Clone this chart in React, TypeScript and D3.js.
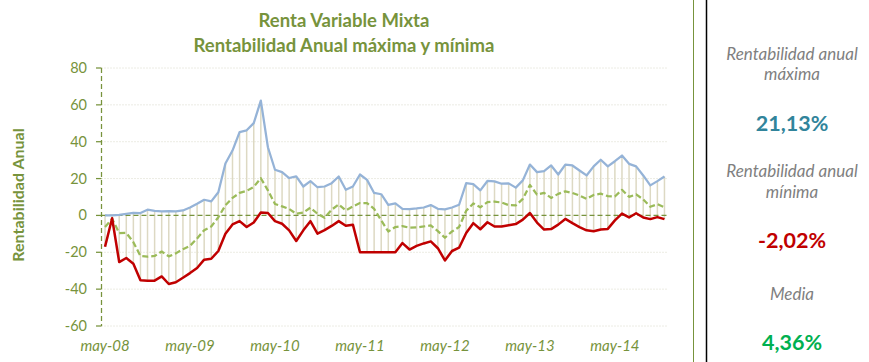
import React from "react";
import * as d3 from "d3";

const MONTHS = ["ene", "feb", "mar", "abr", "may", "jun", "jul", "ago", "sep", "oct", "nov", "dic"];
const START_YEAR = 2008;
const START_MONTH = 4; // may
const N_POINTS = 80;
const categories: string[] = Array.from({ length: N_POINTS }, (_, i) => {
  const m = (START_MONTH + i) % 12;
  const y = START_YEAR + Math.floor((START_MONTH + i) / 12);
  return `${MONTHS[m]}-${String(y % 100).padStart(2, "0")}`;
});

const maxSeries = [
  0, 0, 0.3, 0.9, 1.4, 1.3, 3.1, 2.5, 2.2, 2.3, 2.2, 2.7, 4.3, 6.3, 8.5, 7.6, 12.6, 28.2, 35.2, 45.2,
  46.2, 50.1, 62.3, 37, 24.8, 23.5, 20.3, 21.2, 15.7, 18.6, 15.3, 15.7, 17.5, 21.1, 13.9, 15.7, 22.2, 19.3, 12.2, 11.5,
  5.7, 6.5, 3.6, 3.4, 3.8, 4.3, 5.6, 3.6, 3.3, 4.3, 5.8, 17.5, 17, 13.6, 18.7, 18.5, 17.2, 17.4, 15.1, 19,
  27.6, 23.5, 24, 27.1, 22.2, 27.6, 27.1, 24.4, 21.7, 26.6, 30.2, 26.6, 29.4, 32.5, 28, 26.6, 21.7, 16.3, 18.6, 21.13,
];

const minSeries = [
  -17, -1.5, -25.3, -23.1, -26.2, -35.2, -35.4, -35.4, -33.1, -37.2, -36.3, -33.8, -31.3, -28.5, -24, -23.5, -19.3, -9.9, -4.9, -3.1,
  -6.3, -3.8, 1.6, 1.3, -3.1, -4.5, -8.1, -13.9, -8.1, -3.1, -9.9, -8, -5.7, -3.1, -5.6, -5, -20, -20, -20, -20,
  -20, -20, -15, -18.5, -16.5, -15.2, -14.1, -17.8, -24.4, -19.3, -17.5, -9.5, -4.2, -7.5, -3.7, -6, -6, -5.3, -4.7, -2.3,
  1.3, -3.9, -7.7, -7.4, -5, -1.9, -4.2, -6.3, -8.1, -8.6, -7.6, -7.3, -2.7, 1, -1.1, 1.2, -1.1, -2, -0.9, -2.02,
];

const meanSeries = [
  -6.3, -1.8, -9.6, -9.5, -14.5, -22, -22.4, -22, -19.6, -22.2, -20.6, -18.3, -16.5, -12.5, -8, -6, -1, 5.5, 9.5, 12.2,
  13.3, 15.5, 20.2, 13.6, 6.2, 4.9, 3.5, 0.9, 1.5, 4.2, 0.9, -1.3, 3.1, 6, 2.7, 4.9, 6.7, 6.7, 3.6, -2.7,
  -8.7, -6.3, -5.8, -6.7, -6.5, -6, -5.4, -8.5, -12.1, -8.7, -6.3, 2.5, 6.5, 4.4, 7.2, 7.5, 7, 5.6, 5.4, 9,
  16.5, 11.3, 12.2, 9.5, 11.7, 13.1, 12.2, 10.8, 9, 11.1, 11.8, 10.5, 10.3, 13.9, 10.1, 11.4, 8.7, 4.7, 6.1, 4.36,
];

const yTicks = [-60, -40, -20, 0, 20, 40, 60, 80];
const xTickLabels = ["may-08", "may-09", "may-10", "may-11", "may-12", "may-13", "may-14"];

const titleLines = ["Renta Variable Mixta", "Rentabilidad Anual máxima y mínima"];
const yAxisTitle = "Rentabilidad Anual";
const sideLabels = ["Rentabilidad anual", "máxima", "Rentabilidad anual", "mínima", "Media"];
const sideValues = ["21,13%", "-2,02%", "4,36%"];

const W = 869;
const H = 362;
const FONT = "Lato, 'Open Sans', sans-serif";
const OLIVE = "#77933C";

export default function App() {
  const x = d3.scalePoint<string>().domain(categories).range([101.5, 668]).padding(0.5);
  const y = d3.scaleLinear().domain([-60, 80]).range([326, 68]);

  const lineOf = (vals: number[]) =>
    d3
      .line<number>()
      .x((_, i) => x(categories[i]) as number)
      .y((d) => y(d))(vals) as string;

  return (
    <svg
      width={W}
      height={H}
      style={{ position: "absolute", left: 0, top: 0, background: "#fff" }}
      fontFamily={FONT}
    >
      {/* title */}
      <text x={344} y={27} textAnchor="middle" fontSize={18.5} fontWeight="bold" fill={OLIVE}>
        {titleLines[0]}
      </text>
      <text x={344} y={52} textAnchor="middle" fontSize={18.5} fontWeight="bold" fill={OLIVE}>
        {titleLines[1]}
      </text>

      {/* gridlines */}
      {yTicks.map((t) =>
        t === 0 ? null : (
          <line
            key={"g" + t}
            x1={101.5}
            x2={668}
            y1={y(t)}
            y2={y(t)}
            stroke="#D8D8C8"
            strokeWidth={1}
            strokeDasharray="1,2"
          />
        )
      )}

      {/* hi-lo lines */}
      {categories.map((c, i) => (
        <line
          key={"hl" + i}
          x1={x(c)}
          x2={x(c)}
          y1={y(maxSeries[i])}
          y2={y(minSeries[i])}
          stroke="#DDD9C3"
          strokeWidth={1.5}
        />
      ))}

      {/* zero line */}
      <line x1={101.5} x2={668} y1={y(0)} y2={y(0)} stroke={OLIVE} strokeWidth={1.25} strokeDasharray="5,3" />

      {/* y axis */}
      <line x1={101.5} x2={101.5} y1={y(80)} y2={y(-60)} stroke={OLIVE} strokeWidth={1.25} strokeDasharray="5,3" />
      {yTicks.map((t) => (
        <g key={"t" + t}>
          <line x1={96} x2={101.5} y1={y(t)} y2={y(t)} stroke={OLIVE} strokeWidth={1.25} />
          <text x={87} y={y(t) + 5} textAnchor="end" fontSize={14.5} fill={OLIVE}>
            {t}
          </text>
        </g>
      ))}

      {/* x labels */}
      {xTickLabels.map((lab) => (
        <text
          key={lab}
          x={x(lab)}
          y={351}
          textAnchor="middle"
          fontSize={15}
          fontStyle="italic"
          fill={OLIVE}
        >
          {lab}
        </text>
      ))}

      {/* y axis title */}
      <text
        transform={`translate(24,195) rotate(-90)`}
        textAnchor="middle"
        fontSize={16}
        fontWeight="bold"
        fill={OLIVE}
      >
        {yAxisTitle}
      </text>

      {/* series */}
      <path d={lineOf(maxSeries)} fill="none" stroke="#95B3D7" strokeWidth={2.25} strokeLinejoin="round" />
      <path
        d={lineOf(meanSeries)}
        fill="none"
        stroke="#9BBB59"
        strokeWidth={2.25}
        strokeDasharray="6,3"
        strokeLinejoin="round"
      />
      <path d={lineOf(minSeries)} fill="none" stroke="#C00000" strokeWidth={2.5} strokeLinejoin="round" />

      {/* right panel */}
      <line x1={693.5} x2={693.5} y1={0} y2={H} stroke="#77933C" strokeWidth={1} />
      <line x1={706.5} x2={706.5} y1={0} y2={H} stroke="#000" strokeWidth={1.5} />

      <g textAnchor="middle" fontStyle="italic" fill="#7F7F7F" fontSize={17}>
        <text x={792} y={60}>{sideLabels[0]}</text>
        <text x={792} y={80}>{sideLabels[1]}</text>
        <text x={792} y={177}>{sideLabels[2]}</text>
        <text x={792} y={198}>{sideLabels[3]}</text>
        <text x={792} y={300}>{sideLabels[4]}</text>
      </g>
      <g textAnchor="middle" fontWeight="bold" fontSize={21.5}>
        <text x={792} y={131} fill="#31849B">{sideValues[0]}</text>
        <text x={792} y={248} fill="#C00000">{sideValues[1]}</text>
        <text x={792} y={350} fill="#00B050">{sideValues[2]}</text>
      </g>
    </svg>
  );
}
